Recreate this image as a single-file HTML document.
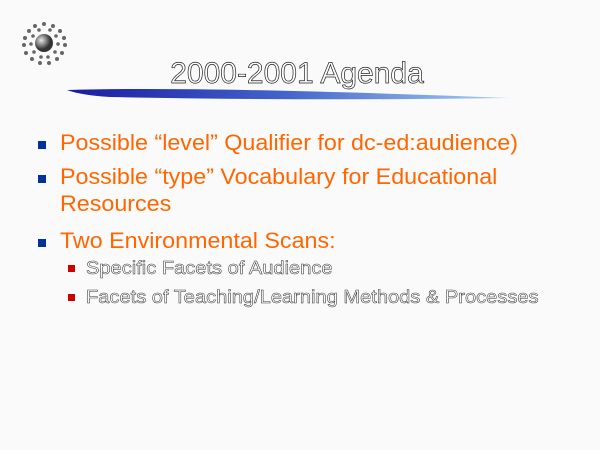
<!DOCTYPE html>
<html><head><meta charset="utf-8"><style>
body{margin:0;width:600px;height:450px;background:#fafafa;position:relative;overflow:hidden;font-family:"Liberation Sans",sans-serif}
.a{position:absolute;white-space:nowrap;transform-origin:0 0}
.t{color:#ff6600;font-size:22px;line-height:22px;transform:scaleX(1.058)}
.s{color:#fff;font-size:18px;line-height:18px;-webkit-text-stroke:0.5px #333;transform:scaleX(1.115)}
.bb{position:absolute;width:8px;height:8px;background:#003399}
.rb{position:absolute;width:7px;height:7px;background:#cc0000}
</style></head><body>
<svg class="a" style="left:0;top:0" width="600" height="110">
<defs><radialGradient id="g" cx="35%" cy="35%"><stop offset="0" stop-color="#e8e8e8"/><stop offset="1" stop-color="#333"/></radialGradient>
<linearGradient id="sw" x1="0" x2="1"><stop offset="0" stop-color="#1a1aa0"/><stop offset="0.5" stop-color="#4466cc"/><stop offset="1" stop-color="#a8d0f0"/></linearGradient></defs>
<g fill="#666">
<circle cx="44" cy="24" r="2"/><circle cx="35" cy="26" r="2"/><circle cx="53" cy="26" r="2"/><circle cx="29" cy="31" r="2"/><circle cx="60" cy="31" r="2"/><circle cx="25" cy="38" r="2"/><circle cx="64" cy="38" r="2"/><circle cx="24" cy="45" r="2"/><circle cx="65" cy="45" r="2"/><circle cx="26" cy="53" r="2"/><circle cx="62" cy="53" r="2"/><circle cx="32" cy="59" r="2"/><circle cx="57" cy="59" r="2"/><circle cx="40" cy="63" r="2"/><circle cx="49" cy="63" r="2"/>
<circle cx="39" cy="30" r="1.8"/><circle cx="50" cy="30" r="1.8"/><circle cx="33" cy="36" r="1.8"/><circle cx="56" cy="36" r="1.8"/><circle cx="31" cy="44" r="1.8"/><circle cx="58" cy="44" r="1.8"/><circle cx="34" cy="52" r="1.8"/><circle cx="55" cy="52" r="1.8"/><circle cx="41" cy="57" r="1.8"/><circle cx="48" cy="57" r="1.8"/>
</g>
<circle cx="44" cy="43" r="9" fill="url(#g)"/>
<path d="M67 90 Q200 86 510 98 Q300 101 110 97 Q80 95 67 90Z" fill="url(#sw)"/>
</svg>
<div class="a" style="left:0;width:594px;text-align:center;top:58px;font-size:30px;line-height:32px;color:#fff;-webkit-text-stroke:0.7px #222">2000-2001 Agenda</div>
<div class="bb" style="left:38px;top:141px"></div>
<div class="a t" style="left:60px;top:132px">Possible “level” Qualifier for dc-ed:audience)</div>
<div class="bb" style="left:38px;top:175px"></div>
<div class="a t" style="left:60px;top:166px">Possible “type” Vocabulary for Educational</div>
<div class="a t" style="left:60px;top:193px">Resources</div>
<div class="bb" style="left:38px;top:239px"></div>
<div class="a t" style="left:60px;top:230px">Two Environmental Scans:</div>
<div class="rb" style="left:68px;top:265px"></div>
<div class="a s" style="left:86px;top:259px">Specific Facets of Audience</div>
<div class="rb" style="left:68px;top:294px"></div>
<div class="a s" style="left:86px;top:288px">Facets of Teaching/Learning Methods &amp; Processes</div>
</body></html>
